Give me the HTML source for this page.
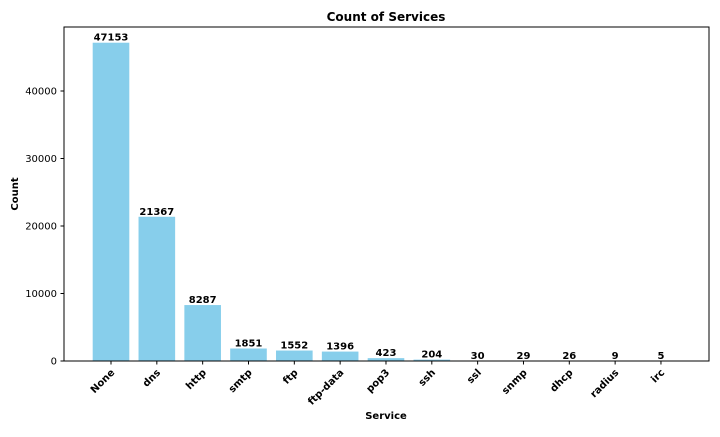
<!DOCTYPE html>
<html><head><meta charset="utf-8"><style>
body{margin:0;background:#fff;}
svg text{font-family:"DejaVu Sans","Liberation Sans",sans-serif;}
</style></head><body>
<svg id="chart" width="720" height="432" xmlns="http://www.w3.org/2000/svg">
<rect width="720" height="432" fill="#fff"/>
<text x="386" y="21" text-anchor="middle" font-size="12" font-weight="bold">Count of Services</text>
<g id="bars"></g>
<g id="yaxis"></g>
<g id="xaxis"></g>
<rect x="64" y="27" width="645" height="334" fill="none" stroke="#000" stroke-width="1"/>
<text transform="translate(18,194) rotate(-90)" text-anchor="middle" font-size="10" font-weight="bold">Count</text>
<text x="386" y="419" text-anchor="middle" font-size="10" font-weight="bold">Service</text>
</svg>
<script>
const categories=["None","dns","http","smtp","ftp","ftp-data","pop3","ssh","ssl","snmp","dhcp","radius","irc"];
const counts=[47153,21367,8287,1851,1552,1396,423,204,30,29,26,9,5];
const yTicks=[0,10000,20000,30000,40000];
const NS="http://www.w3.org/2000/svg";
const x0=111,step=45.83,bw=36.6;
function xScale(i){return x0+i*step;}
function yScale(v){return 361-v*270/40000;}
function mk(tag,attrs,parent){const e=document.createElementNS(NS,tag);for(const k in attrs)e.setAttribute(k,attrs[k]);parent.appendChild(e);return e;}
const bars=document.getElementById('bars'),ya=document.getElementById('yaxis'),xa=document.getElementById('xaxis');
categories.forEach((c,i)=>{
  const cx=xScale(i),y=yScale(counts[i]);
  const r=mk('rect',{x:cx-bw/2,y:y,width:bw,height:361-y,fill:'#87ceeb'},bars);
  
  
  const t=mk('text',{x:cx,y:y-2,'text-anchor':'middle','font-size':'10','font-weight':'bold'},bars);
  t.textContent=counts[i];
  
  
  const tk=mk('line',{x1:cx,x2:cx,y1:361,y2:364.5,stroke:'#000'},xa);
  
  
  const l=mk('text',{transform:`translate(${cx+2},${371}) rotate(-45)`,'text-anchor':'end','font-size':'10','font-weight':'bold','dominant-baseline':'middle'},xa);
  l.textContent=c;
  
  
});
yTicks.forEach(v=>{
  const y=yScale(v);
  const tk=mk('line',{x1:60.5,x2:64,y1:y,y2:y,stroke:'#000'},ya);
  
  
  const t=mk('text',{x:57,y:y+3.5,'text-anchor':'end','font-size':'10'},ya);
  t.textContent=v;
  
  
});
</script>
</body></html>
